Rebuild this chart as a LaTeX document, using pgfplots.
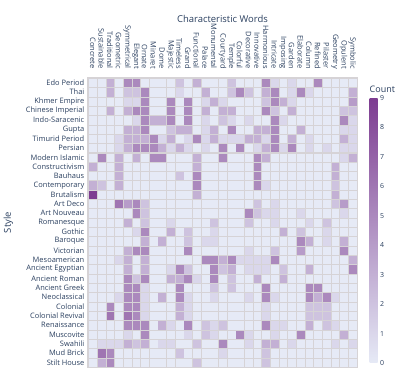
\documentclass[border=0pt]{standalone}
\usepackage{pgfplots}
\pgfplotsset{compat=1.18}
\usepackage{fontspec}
\setmainfont{Open Sans}
\definecolor{txt}{HTML}{2A3F5F}
\definecolor{bgc}{HTML}{E8ECF5}
\definecolor{gapc}{HTML}{D6D3D6}
\begin{document}
\begin{tikzpicture}
\path[use as bounding box] (-87.5bp,-7bp) rectangle (319.5bp,368bp);
\begin{axis}[
 at={(0,0)}, anchor=south west,
 scale only axis, width=270bp, height=291bp,
 xmin=-0.6, xmax=30.6, ymin=-0.6, ymax=30.6,
 y dir=reverse,
 axis line style={draw=none},
 axis background/.style={fill=gapc},
 major tick length=0pt,
 xtick={0,...,30}, ytick={0,...,30},
 xticklabels={Concrete,Sustainable,Traditional,Geometric,Symmetrical,Elegant,Ornate,Minaret,Dome,Majestic,Timeless,Grand,Functional,Palace,Monumental,Courtyard,Temple,Colorful,Decorative,Innovative,Harmonious,Intricate,Imposing,Garden,Elaborate,Column,Refined,Pilaster,Geometry,Opulent,Symbolic},
 yticklabels={Edo Period,Thai,Khmer Empire,Chinese Imperial,Indo-Saracenic,Gupta,Timurid Period,Persian,Modern Islamic,Constructivism,Bauhaus,Contemporary,Brutalism,Art Deco,Art Nouveau,Romanesque,Gothic,Baroque,Victorian,Mesoamerican,Ancient Egyptian,Ancient Roman,Ancient Greek,Neoclassical,Colonial,Colonial Revival,Renaissance,Muscovite,Swahili,Mud Brick,Stilt House},
 xticklabel pos=top,
 xticklabel style={rotate=-90, anchor=east, inner sep=0pt, font=\fontsize{7.5}{8}\selectfont, text=txt},
 xticklabel shift=8bp,
 yticklabel style={anchor=east, inner sep=0pt, font=\fontsize{7.5}{8}\selectfont, text=txt},
 yticklabel shift=3bp,
 title={Characteristic Words},
 title style={at={(axis description cs:0.5,1)}, anchor=base, yshift=49bp, inner sep=0pt, font=\fontsize{9.5}{10}\selectfont, text=txt},
 ylabel={Style},
 ylabel style={at={(axis description cs:-0.2926,0.5)}, anchor=center, font=\fontsize{9.5}{10}\selectfont, text=txt},
 colormap={purp}{rgb255=(230,234,246) rgb255=(125,60,145)},
 point meta min=0, point meta max=9,
 colorbar,
 colorbar style={
  at={(parent axis.south east)}, anchor=south west, xshift=3.5bp, yshift=5bp,
  scale only axis, width=8bp, height=265bp,
  axis line style={draw=none},
  major tick length=0pt,
  ytick={0,...,9},
  yticklabel style={font=\fontsize{7}{8}\selectfont, text=txt, inner sep=0pt, anchor=west},
  yticklabel shift=2.5bp,
  /pgf/number format/assume math mode=true,
  title={Count},
  title style={at={(axis description cs:0,1)}, anchor=base west, yshift=-0.5bp, inner sep=0pt, font=\fontsize{9}{10}\selectfont, text=txt},
 },
]
\addplot[scatter, only marks, mark=square*, mark size=3.65bp, point meta=explicit, line width=0.1pt,
  scatter/use mapped color={draw=mapped color, fill=mapped color},
  every mark/.append style={xscale=0.93, line width=0.1pt}]
 table[row sep=\\, x expr={\coordindex-31*floor((\coordindex+0.5)/31)}, y expr={floor((\coordindex+0.5)/31)}, meta=c] {
c\\
0\\0\\3\\0\\5\\5\\0\\0\\0\\0\\2\\0\\3\\0\\0\\0\\2\\0\\0\\0\\5\\1\\0\\1\\0\\0\\5\\0\\0\\0\\0\\
0\\0\\3\\0\\2\\2\\5\\0\\0\\0\\1\\0\\0\\3\\0\\0\\2\\5\\2\\0\\3\\5\\0\\1\\5\\1\\0\\0\\0\\0\\3\\
0\\0\\0\\0\\1\\1\\5\\0\\0\\5\\0\\5\\0\\1\\3\\1\\0\\0\\0\\0\\2\\5\\3\\1\\0\\0\\0\\0\\0\\0\\4\\
0\\0\\3\\0\\3\\5\\5\\0\\0\\5\\0\\5\\0\\3\\0\\3\\3\\0\\0\\0\\5\\2\\0\\3\\0\\0\\0\\0\\0\\2\\2\\
0\\0\\0\\0\\0\\1\\5\\3\\3\\5\\0\\5\\0\\1\\0\\2\\1\\0\\1\\0\\0\\5\\1\\0\\0\\0\\0\\0\\0\\5\\1\\
0\\0\\0\\0\\3\\3\\5\\0\\0\\2\\3\\3\\0\\1\\3\\0\\5\\0\\0\\3\\3\\5\\0\\0\\3\\0\\0\\0\\0\\1\\1\\
0\\0\\0\\1\\3\\3\\3\\5\\1\\3\\0\\1\\5\\1\\3\\1\\1\\1\\3\\3\\1\\5\\0\\3\\0\\1\\0\\0\\0\\3\\1\\
0\\0\\0\\1\\3\\5\\5\\5\\3\\1\\3\\1\\0\\1\\0\\5\\0\\5\\0\\1\\3\\5\\1\\5\\0\\1\\0\\1\\0\\1\\1\\
0\\5\\0\\3\\0\\3\\0\\5\\5\\0\\0\\0\\3\\0\\0\\5\\0\\0\\0\\5\\3\\0\\0\\0\\0\\0\\0\\0\\0\\1\\3\\
3\\0\\0\\3\\0\\0\\0\\0\\0\\0\\0\\0\\3\\0\\0\\0\\0\\0\\0\\5\\0\\0\\0\\0\\0\\0\\0\\0\\3\\0\\0\\
0\\0\\0\\3\\0\\0\\0\\0\\0\\0\\2\\0\\5\\0\\0\\0\\0\\0\\0\\5\\0\\0\\0\\0\\0\\0\\0\\0\\3\\0\\0\\
3\\2\\0\\3\\0\\0\\0\\0\\0\\0\\0\\0\\5\\0\\0\\0\\0\\0\\0\\5\\1\\0\\0\\0\\0\\0\\0\\0\\2\\0\\0\\
9\\0\\0\\0\\0\\0\\0\\0\\0\\0\\0\\0\\3\\0\\0\\0\\0\\0\\0\\0\\0\\0\\0\\0\\0\\0\\0\\0\\3\\0\\0\\
0\\0\\0\\6\\4\\5\\2\\0\\0\\0\\0\\0\\0\\0\\0\\0\\0\\0\\0\\2\\0\\1\\0\\0\\0\\0\\0\\0\\2\\4\\0\\
0\\0\\0\\0\\0\\5\\2\\0\\0\\0\\0\\0\\0\\0\\0\\0\\0\\0\\5\\2\\1\\1\\0\\0\\1\\0\\0\\0\\0\\1\\0\\
0\\0\\0\\0\\3\\0\\2\\0\\0\\1\\0\\0\\0\\0\\2\\0\\0\\0\\2\\0\\0\\1\\0\\0\\0\\1\\0\\2\\0\\0\\0\\
0\\0\\0\\0\\0\\1\\5\\0\\0\\3\\0\\2\\0\\0\\1\\0\\0\\0\\0\\0\\0\\0\\3\\0\\2\\0\\0\\1\\0\\0\\0\\
0\\0\\0\\0\\0\\0\\3\\0\\3\\0\\0\\2\\0\\1\\1\\0\\0\\0\\0\\0\\0\\0\\0\\0\\5\\3\\0\\1\\0\\3\\0\\
0\\0\\0\\0\\3\\5\\5\\0\\0\\0\\0\\5\\0\\0\\0\\0\\0\\0\\1\\0\\0\\2\\0\\0\\4\\0\\0\\0\\0\\5\\0\\
0\\0\\0\\1\\3\\0\\3\\0\\0\\0\\0\\0\\0\\5\\5\\3\\5\\1\\1\\1\\1\\5\\0\\0\\0\\0\\0\\0\\0\\0\\3\\
0\\0\\0\\0\\3\\0\\3\\0\\0\\1\\5\\2\\0\\0\\5\\2\\3\\0\\1\\1\\1\\0\\2\\0\\0\\3\\0\\0\\0\\0\\5\\
0\\0\\0\\0\\5\\2\\5\\0\\0\\3\\3\\5\\1\\0\\5\\0\\2\\0\\0\\3\\0\\0\\3\\0\\0\\0\\0\\0\\0\\0\\0\\
0\\0\\0\\0\\5\\5\\1\\0\\0\\0\\5\\0\\0\\0\\2\\0\\2\\0\\0\\0\\5\\0\\0\\0\\0\\5\\5\\0\\0\\0\\0\\
0\\0\\0\\1\\5\\5\\1\\0\\3\\0\\5\\1\\0\\0\\1\\0\\0\\0\\1\\0\\5\\1\\0\\0\\0\\5\\3\\5\\1\\0\\0\\
0\\0\\5\\0\\5\\5\\1\\0\\0\\0\\3\\1\\0\\0\\0\\0\\0\\0\\0\\0\\1\\0\\0\\0\\0\\2\\2\\2\\0\\0\\0\\
0\\0\\6\\0\\6\\5\\1\\0\\0\\0\\3\\1\\0\\0\\0\\0\\0\\0\\0\\0\\1\\0\\0\\0\\0\\2\\2\\2\\0\\0\\0\\
0\\0\\0\\0\\5\\5\\5\\0\\3\\1\\0\\5\\0\\2\\1\\2\\0\\0\\0\\0\\5\\1\\1\\0\\0\\3\\0\\2\\1\\0\\0\\
0\\0\\0\\0\\1\\0\\5\\0\\0\\0\\0\\1\\0\\2\\1\\0\\0\\5\\1\\0\\0\\1\\0\\0\\5\\0\\0\\0\\0\\3\\0\\
0\\1\\1\\1\\3\\2\\3\\0\\1\\1\\0\\0\\2\\0\\0\\5\\0\\0\\1\\0\\3\\3\\0\\1\\0\\0\\0\\0\\1\\0\\1\\
0\\6\\5\\0\\0\\0\\0\\0\\0\\0\\2\\0\\0\\0\\0\\1\\0\\0\\0\\0\\2\\0\\0\\0\\0\\0\\0\\0\\0\\0\\0\\
0\\3\\5\\0\\0\\0\\0\\0\\0\\0\\0\\0\\2\\0\\0\\0\\0\\0\\0\\0\\2\\0\\0\\0\\0\\0\\0\\0\\0\\0\\0\\
};
\end{axis}
\end{tikzpicture}
\end{document}
